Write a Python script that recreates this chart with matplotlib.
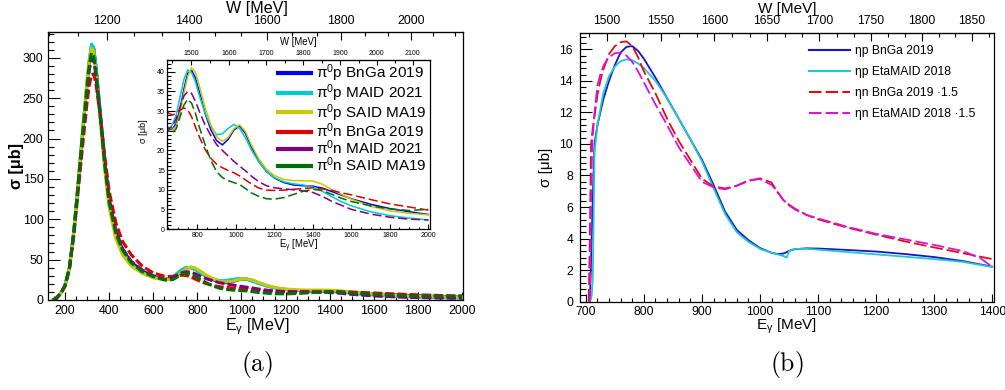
import numpy as np
import matplotlib
matplotlib.use('Agg')
import matplotlib.pyplot as plt
from matplotlib.lines import Line2D
from matplotlib.ticker import MultipleLocator, AutoMinorLocator

plt.rcParams['font.family'] = ['Liberation Sans', 'DejaVu Sans']
plt.rcParams['mathtext.default'] = 'regular'

# ---- panel (a): pi0 photoproduction, Egamma grid shared by all six curves
E_a = [145, 160, 180, 200, 220, 240, 260, 280, 300, 310, 320, 330, 340, 360, 380, 400, 430, 460, 500, 550, 600,
       650, 670, 690, 710, 730, 750, 770, 790, 810, 840, 870, 900, 930, 960, 990, 1020, 1050, 1080, 1120, 1160,
       1200, 1250, 1300, 1350, 1400, 1450, 1500, 1550, 1600, 1700, 1800, 1900, 2000]

pi0p_bnga = [0, 2, 8, 18, 40, 85, 145, 208, 268, 295, 314, 312, 290, 232, 172, 125, 85, 63, 47, 36, 29.5,
             25.3, 25.4, 26.8, 30.5, 35.5, 39.6, 40.4, 38.5, 35, 29.5, 25.3, 22.5, 21.4, 22.8, 25.2, 26.2, 24.3, 21,
             17.2, 14.6, 13, 11.8, 11.2, 11, 10.9, 10.4, 9.5, 8.6, 7.7, 6.3, 5.2, 4.4, 3.7]
pi0p_maid = [0, 2, 8, 18, 40, 86, 147, 210, 270, 298, 317, 313, 289, 228, 166, 120, 80, 60, 44, 34, 28,
             25.5, 26.5, 29, 33.5, 38, 40.5, 39.8, 37.5, 34, 29.5, 26.2, 24, 24.2, 25.6, 26.6, 25.6, 23.2, 20.2,
             17, 14.6, 13.1, 12, 11.5, 11.2, 10.7, 9.6, 8.2, 6.9, 5.9, 4.4, 3.4, 2.8, 2.3]
pi0p_said = [0, 2, 8, 18, 40, 86, 148, 212, 272, 298, 312, 308, 283, 222, 160, 114, 76, 56, 42, 33, 27.5,
             25, 25.2, 26.2, 29.5, 34.5, 38.8, 41, 39.8, 36.5, 31, 26.5, 23.5, 22.3, 23.3, 25.5, 26.5, 24.8, 21.5,
             17.8, 15.2, 13.6, 12.6, 12.3, 12.3, 12.2, 11.4, 10, 8.8, 7.6, 5.8, 4.6, 4, 3.6]
pi0n_bnga = [0, 2, 8, 17, 38, 80, 136, 192, 245, 266, 279, 280, 268, 228, 178, 135, 96, 73, 56, 42, 33.5,
             29.5, 29, 29.3, 30.2, 30.8, 30.3, 28.6, 26, 23.5, 20.3, 18, 16.5, 15.6, 14.9, 14.3, 13.5, 12.5, 11.5,
             10.4, 9.9, 9.8, 9.9, 10.1, 10.3, 10.5, 10.2, 9.8, 9.2, 8.7, 7.5, 6.4, 5.6, 4.8]
pi0n_maid = [0, 2, 8, 18, 40, 84, 143, 204, 260, 285, 299, 297, 278, 228, 170, 124, 86, 64, 48, 37, 30,
             25.5, 26, 28, 31, 33.8, 35, 34.5, 32.5, 30, 26.5, 23.8, 21.5, 20, 18.6, 17.2, 16, 14.8, 13.5,
             12, 11, 10.5, 10.2, 10, 9.7, 9.3, 8.3, 7, 6, 5, 3.8, 3, 2.5, 2.3]
pi0n_said = [0, 2, 8, 18, 40, 85, 145, 207, 265, 292, 306, 303, 282, 226, 168, 121, 83, 62, 46, 35, 29,
             25, 24.5, 25.5, 28.5, 31.5, 33, 32, 29.5, 26, 21.5, 17.5, 14.6, 13.1, 12.3, 11.8, 11.3, 10.3, 9.2,
             8.3, 7.7, 7.6, 8, 8.8, 9.6, 10.1, 9.8, 8.8, 7.8, 7, 5.9, 5.1, 4.7, 5]

labels_a = ['π$^0$p BnGa 2019', 'π$^0$p MAID 2021', 'π$^0$p SAID MA19',
            'π$^0$n BnGa 2019', 'π$^0$n MAID 2021', 'π$^0$n SAID MA19']
colors_a = ['#0000f0', '#00cccc', '#c8c800', '#dd0000', '#800080', '#006e00']

# top W axes: W values and the Egamma where they sit in the picture
W_top_a = [1200, 1400, 1600, 1800, 2000]
E_top_a = [392, 764, 1117, 1447, 1765]
W_top_in = [1500, 1600, 1700, 1800, 1900, 2000, 2100]
E_top_in = [772, 959, 1153, 1349, 1552, 1734, 1915]

# ---- panel (b): eta photoproduction
E_etap_bnga = [707, 709, 712, 715, 720, 730, 740, 750, 760, 770, 780, 790, 800, 820, 840, 860, 880, 900, 920, 940,
               960, 980, 1000, 1020, 1030, 1040, 1045, 1050, 1060, 1080, 1100, 1150, 1200, 1250, 1300, 1350, 1400]
etap_bnga = [0, 2.5, 6.5, 10, 11.2, 12.8, 14, 15, 15.8, 16.15, 16.2, 15.9, 15.4, 14.2, 12.9, 11.6, 10.3, 9.0, 7.4,
             5.7, 4.55, 3.9, 3.4, 3.1, 3.02, 3.05, 3.12, 3.22, 3.33, 3.38, 3.37, 3.28, 3.18, 3.02, 2.83, 2.57, 2.22]
E_etap_maid = [707, 710, 712, 715, 720, 730, 740, 750, 760, 770, 780, 790, 800, 820, 840, 860, 880, 900, 920, 940,
               960, 980, 1000, 1020, 1030, 1040, 1046, 1050, 1060, 1080, 1100, 1150, 1200, 1250, 1300, 1350, 1400]
etap_maid = [0, 0.3, 1.5, 9.5, 11.2, 13.2, 14.3, 14.9, 15.25, 15.36, 15.3, 15.1, 14.8, 14.0, 12.9, 11.6, 10.3, 8.9,
             7.2, 5.55, 4.4, 3.8, 3.35, 3.1, 3.0, 2.9, 2.8, 3.2, 3.35, 3.35, 3.3, 3.15, 3.0, 2.85, 2.7, 2.52, 2.2]
E_etan_bnga = [705, 707, 709, 712, 716, 720, 725, 730, 740, 750, 760, 770, 780, 790, 800, 820, 840, 860, 880, 900,
               920, 940, 960, 980, 1000, 1020, 1030, 1040, 1050, 1060, 1080, 1100, 1150, 1200, 1250, 1300, 1350, 1400]
etan_bnga = [0, 4, 10, 11, 12, 13.1, 14, 14.7, 15.7, 16.2, 16.45, 16.5, 16.2, 15.5, 14.6, 13.2, 11.6, 10.2, 9.0,
             7.8, 7.3, 7.18, 7.35, 7.65, 7.82, 7.55, 6.95, 6.45, 6.15, 5.9, 5.5, 5.22, 4.7, 4.25, 3.82, 3.44, 3.07, 2.7]
E_etan_maid = [707, 709, 711, 715, 720, 725, 731, 740, 750, 760, 770, 780, 790, 800, 820, 840, 860, 880, 900, 920,
               940, 960, 980, 1000, 1020, 1030, 1040, 1050, 1060, 1080, 1100, 1150, 1200, 1250, 1300, 1350, 1380, 1400]
etan_maid = [0, 6, 10, 12, 13.7, 14.4, 15, 15.5, 15.75, 15.8, 15.6, 15.2, 14.6, 13.9, 12.5, 11.2, 9.8, 8.7, 7.6,
             7.25, 7.12, 7.35, 7.7, 7.77, 7.4, 7.0, 6.45, 6.1, 5.85, 5.5, 5.28, 4.75, 4.3, 3.95, 3.6, 3.2, 2.75, 2.2]

labels_b = ['ηp BnGa 2019', 'ηp EtaMAID 2018', 'ηn BnGa 2019 ·1.5', 'ηn EtaMAID 2018 ·1.5']
colors_b = ['#1414c8', '#20c8d0', '#dd1010', '#dd10dd']

W_top_b = [1500, 1550, 1600, 1650, 1700, 1750, 1800, 1850]
E_top_b = [737, 828, 921, 1015, 1101, 1190, 1279, 1365]


def w_axis(ax, E_pts, W_pts, major, nminor, fs, ticklen, pad):
    f = np.poly1d(np.polyfit(E_pts, W_pts, 2))
    g = np.poly1d(np.polyfit(W_pts, E_pts, 2))
    sec = ax.secondary_xaxis('top', functions=(lambda x: f(np.asarray(x)), lambda x: g(np.asarray(x))))
    sec.xaxis.set_major_locator(MultipleLocator(major))
    sec.xaxis.set_minor_locator(AutoMinorLocator(nminor))
    sec.tick_params(axis='x', which='major', direction='in', length=ticklen, width=0.8, labelsize=fs, pad=pad)
    sec.tick_params(axis='x', which='minor', direction='in', length=ticklen * 0.5, width=0.8)
    return sec


def style(ax, xmaj, xmin, ymaj, ymin, fs, xlen, ylen, padx, pady):
    ax.xaxis.set_major_locator(MultipleLocator(xmaj))
    ax.xaxis.set_minor_locator(MultipleLocator(xmin))
    ax.yaxis.set_major_locator(MultipleLocator(ymaj))
    ax.yaxis.set_minor_locator(MultipleLocator(ymin))
    ax.tick_params(axis='x', which='major', direction='in', length=xlen, width=0.8, labelsize=fs, pad=padx)
    ax.tick_params(axis='x', which='minor', direction='in', length=xlen * 0.5, width=0.8)
    ax.tick_params(axis='y', which='major', direction='in', length=ylen, width=0.8, labelsize=fs, pad=pady)
    ax.tick_params(axis='y', which='minor', direction='in', length=ylen * 0.5, width=0.8)
    for s in ax.spines.values():
        s.set_linewidth(0.9)


fig = plt.figure(figsize=(10.05, 3.9), dpi=100)

# ---------------- (a) main
ax = fig.add_axes([48.3 / 1005, 90 / 390, 414.7 / 1005, 268 / 390])
series_a = [pi0p_bnga, pi0p_maid, pi0p_said, pi0n_bnga, pi0n_maid, pi0n_said]
for i, (sig, c) in enumerate(zip(series_a, colors_a)):
    ls = '-' if i < 3 else (0, (3, 1))
    ax.plot(E_a, sig, color=c, lw=2.2, ls=ls)
ax.set_xlim(124, 2005)
ax.set_ylim(0, 332)
style(ax, 200, 50, 50, 10, 8.9, 6, 8.5, 3.5, 3.5)
ax.set_xlabel('E$_γ$ [MeV]', fontsize=11.6, va='top')
ax.xaxis.set_label_coords(0.503, -0.062)
ax.set_ylabel('σ [μb]', fontsize=11.6, fontweight='bold')
ax.yaxis.set_label_coords(-0.059, 0.5)
sec = w_axis(ax, E_top_a, W_top_a, 200, 3, 8.9, 6, 3.5)
sec.set_xlabel('W [MeV]', fontsize=11.6, va='bottom')
sec.xaxis.set_label_coords(0.503, 1.058, transform=ax.transAxes)

# ---------------- (a) inset
axi = fig.add_axes([167.3 / 1005, 161 / 390, 262.7 / 1005, 169 / 390])
axi.set_facecolor('white')
for i, (sig, c) in enumerate(zip(series_a, colors_a)):
    ls = '-' if i < 3 else (0, (6, 2.5))
    axi.plot(E_a, sig, color=c, lw=1.1, ls=ls)
axi.set_xlim(644, 2009)
axi.set_ylim(0, 43)
style(axi, 200, 50, 5, 1, 5, 3.6, 5.5, 2, 1.7)
axi.set_xlabel('E$_γ$ [MeV]', fontsize=6.9, va='top')
axi.xaxis.set_label_coords(0.5, -0.05)
axi.set_ylabel('σ [μb]', fontsize=6.6)
axi.yaxis.set_label_coords(-0.073, 0.58)
seci = w_axis(axi, E_top_in, W_top_in, 100, 2, 5, 3.6, 2)
seci.set_xlabel('W [MeV]', fontsize=6.9, va='bottom')
seci.xaxis.set_label_coords(0.5, 1.075, transform=axi.transAxes)
handles = [Line2D([], [], color=c, lw=3) for c in colors_a]
axi.legend(handles, labels_a, loc='upper left', bbox_to_anchor=(0.4225, 0.985), frameon=False,
           fontsize=11, handlelength=2.15, handletextpad=0.35, labelspacing=-0.12,
           borderpad=0, borderaxespad=0)

# ---------------- (b)
axb = fig.add_axes([580 / 1005, 88.3 / 390, 414 / 1005, 269 / 390])
series_b = [(E_etap_bnga, etap_bnga), (E_etap_maid, etap_maid), (E_etan_bnga, etan_bnga), (E_etan_maid, etan_maid)]
for i, ((e, sig), c) in enumerate(zip(series_b, colors_b)):
    ls = '-' if i < 2 else (0, (7, 2.2))
    axb.plot(e, sig, color=c, lw=1.3, ls=ls)
axb.set_xlim(690, 1403)
axb.set_ylim(0, 17.05)
style(axb, 100, 20, 2, 0.4, 8.7, 6, 8.5, 3.3, 5)
axb.set_xlabel('E$_γ$ [MeV]', fontsize=11, va='top')
axb.xaxis.set_label_coords(0.5, -0.056)
axb.set_ylabel('σ [μb]', fontsize=11)
axb.yaxis.set_label_coords(-0.065, 0.5)
secb = w_axis(axb, E_top_b, W_top_b, 50, 3, 8.7, 6, 4.4)
secb.set_xlabel('W [MeV]', fontsize=11, va='bottom')
secb.xaxis.set_label_coords(0.5, 1.062, transform=axb.transAxes)
handles_b = [Line2D([], [], color=c, lw=1.5, ls='-' if i < 2 else (0, (6, 2))) for i, c in enumerate(colors_b)]
axb.legend(handles_b, labels_b, loc='upper left', bbox_to_anchor=(0.554, 0.955), frameon=False,
           fontsize=8.7, handlelength=3.4, handletextpad=0.4, labelspacing=0.76,
           borderpad=0, borderaxespad=0)

# captions
fig.text(257 / 1005, 1 - 365 / 390, r'$\mathrm{(a)}$', math_fontfamily='cm', fontsize=18.5,
         ha='center', va='center')
fig.text(787 / 1005, 1 - 365 / 390, r'$\mathrm{(b)}$', math_fontfamily='cm', fontsize=18.5,
         ha='center', va='center')

fig.savefig('out.png', dpi=100)
